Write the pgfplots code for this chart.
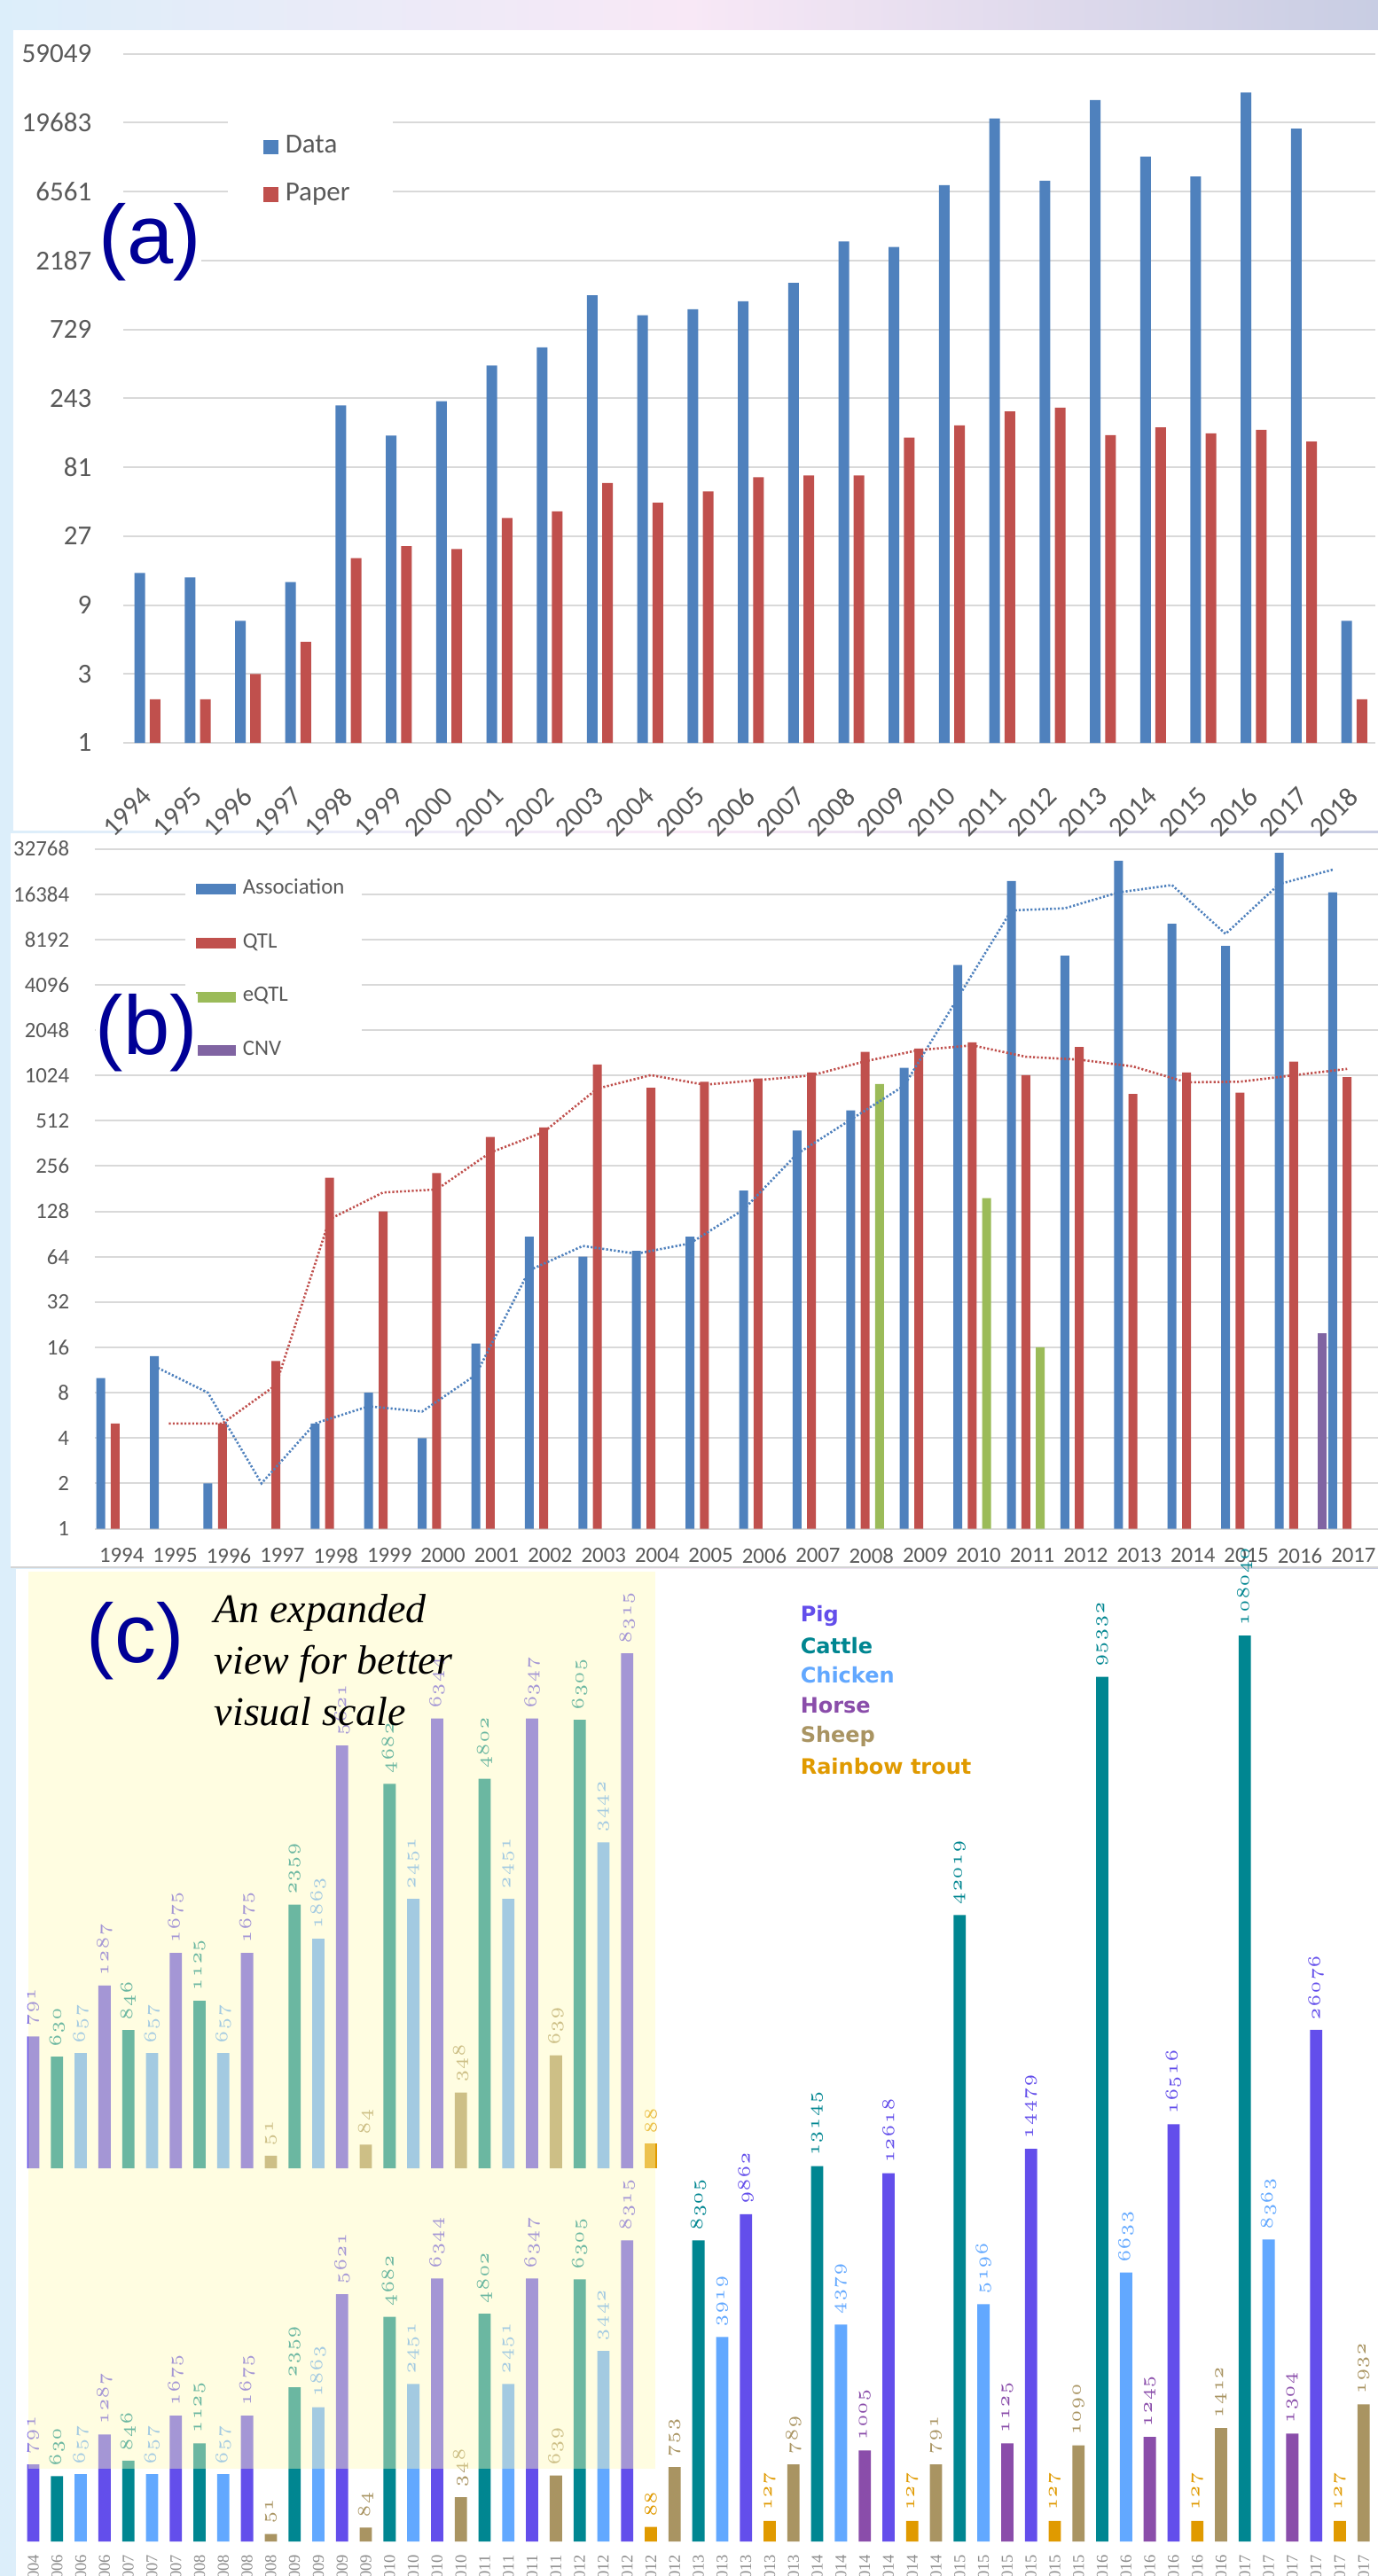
\documentclass[border=0pt]{standalone}
\usepackage{fontspec}
\usepackage{pgfplots}
\pgfplotsset{compat=1.18}
\newfontfamily\carlito{Carlito}
\newfontfamily\arialf{Liberation Sans}
\newfontfamily\timesf{Liberation Serif}
\newfontfamily\dejavu{DejaVu Sans}
\definecolor{dataC}{HTML}{4F81BD}
\definecolor{paperC}{HTML}{C0504D}
\definecolor{eqtlC}{HTML}{9BBB59}
\definecolor{cnvC}{HTML}{8064A2}
\definecolor{gridC}{HTML}{D9D9D9}
\definecolor{tickC}{HTML}{595959}
\definecolor{navyC}{RGB}{0,0,150}
\definecolor{pigC}{RGB}{99,78,235}
\definecolor{cattleC}{RGB}{0,134,145}
\definecolor{chickC}{RGB}{98,168,255}
\definecolor{horseC}{RGB}{138,77,170}
\definecolor{sheepC}{RGB}{169,148,98}
\definecolor{troutC}{RGB}{224,154,0}
\definecolor{ovC}{RGB}{255,251,184}
\definecolor{yearC}{HTML}{8C8C8C}
\definecolor{bgL}{HTML}{DCEEFA}
\definecolor{bgM}{HTML}{F8E8F6}
\definecolor{bgR}{HTML}{C8CDE3}
\definecolor{sepC}{HTML}{D4D4D4}
\begin{document}
\begin{tikzpicture}
\path[use as bounding box] (0pt,0pt) rectangle (388.5pt,-726.5pt);
\shade[left color=bgL, right color=bgR, middle color=bgM] (0pt,0pt) rectangle (388.5pt,-726.5pt);
\fill[white] (3.75pt,-8.5pt) rectangle (388.5pt,-234.25pt);
\fill[white] (3pt,-234.9pt) rectangle (388.5pt,-441.9pt);
\fill[white] (4.5pt,-442.4pt) rectangle (388.5pt,-726.5pt);
\draw[sepC, line width=0.5pt] (3pt,-442.1pt) -- (388.5pt,-442.1pt);

% ---------------- (a) ----------------
\begin{axis}[
 at={(34.75pt,-209.5pt)}, anchor=south west, scale only axis,
 width=353pt, height=194.35pt,
 ymode=log, log basis y=3, ymin=1, ymax=59049,
 xmin=-0.48, xmax=24.42,
 ybar, bar width=3pt,
 ytick={1,3,9,27,81,243,729,2187,6561,19683,59049},
 yticklabels={1,3,9,27,81,243,729,2187,6561,19683,59049},
 xtick={0,...,24},
 xticklabels={1994,1995,1996,1997,1998,1999,2000,2001,2002,2003,2004,2005,2006,2007,2008,2009,2010,2011,2012,2013,2014,2015,2016,2017,2018},
 ymajorgrids, major grid style={draw=gridC, line width=0.5pt},
 axis line style={draw=none}, tick style={draw=none},
 tick label style={font=\carlito\fontsize{7.75}{9}\selectfont, text=tickC},
 yticklabel style={xshift=-5.4pt},
 xticklabel style={yshift=-9.5pt, rotate=45, anchor=east, inner sep=0pt},
 clip=false,
 legend style={at={(axis description cs:0.0829,0.913)}, anchor=north west, fill=white, draw=none,
   inner xsep=10pt, inner ysep=4pt, row sep=3pt,
   font=\carlito\fontsize{7.75}{9}\selectfont\color{tickC}},
 legend cell align=left,
 legend image code/.code={\draw[#1,draw=none] (0pt,-2.1pt) rectangle (4.25pt,2.1pt);},
]
\addplot[fill=dataC, draw=none, bar shift=-2.15pt] coordinates {
(0,15) (1,14) (2,7) (3,13) (4,217) (5,134) (6,232) (7,409) (8,547) (9,1256) (10,915) (11,1005) (12,1142)
(13,1530) (14,2960) (15,2714) (16,7277) (17,21070) (18,7800) (19,28210) (20,11470) (21,8340) (22,31790) (23,17920) (24,7)};
\addplot[fill=paperC, draw=none, bar shift=2.15pt] coordinates {
(0,2) (1,2) (2,3) (3,5) (4,19) (5,23) (6,22) (7,36) (8,40) (9,63) (10,46) (11,55) (12,69)
(13,71) (14,71) (15,130) (16,158) (17,197) (18,209) (19,135) (20,153) (21,139) (22,147) (23,122) (24,2)};
\legend{Data,Paper}
\end{axis}
\node[anchor=west, inner sep=0pt, fill=white, font=\arialf\fontsize{23.5}{24}\selectfont, text=navyC] at (27.75pt,-68.25pt) {(a)};

% ---------------- (b) ----------------
\begin{axis}[
 at={(26.75pt,-431.125pt)}, anchor=south west, scale only axis,
 width=362.4pt, height=191.75pt,
 ymode=log, log basis y=2, ymin=1, ymax=32768,
 xmin=-0.5, xmax=23.5,
 ybar, bar width=2.5pt,
 ytick={1,2,4,8,16,32,64,128,256,512,1024,2048,4096,8192,16384,32768},
 yticklabels={1,2,4,8,16,32,64,128,256,512,1024,2048,4096,8192,16384,32768},
 xtick={0,...,23},
 xticklabels={1994,1995,1996,1997,1998,1999,2000,2001,2002,2003,2004,2005,2006,2007,2008,2009,2010,2011,2012,2013,2014,2015,2016,2017},
 ymajorgrids, major grid style={draw=gridC, line width=0.5pt},
 axis line style={draw=none}, tick style={draw=none},
 tick label style={font=\carlito\fontsize{6.2}{7.5}\selectfont, text=tickC},
 yticklabel style={xshift=-3.7pt},
 xticklabel style={yshift=2.3pt},
 clip=false,
 legend style={at={(axis description cs:0.0697,0.9775)}, anchor=north west, fill=white, draw=none,
   inner xsep=3pt, inner ysep=2pt, row sep=5.6pt,
   font=\carlito\fontsize{6.2}{7.5}\selectfont\color{tickC}},
 legend cell align=left,
 legend image code/.code={\draw[#1,draw=none] (0pt,-1.5pt) rectangle (11.25pt,1.5pt);},
]
\addplot[fill=dataC, draw=none, bar shift=-5.875pt] coordinates {
(0,10) (1,14) (2,2) (4,5) (5,8) (6,4) (7,17) (8,87) (9,64) (10,70) (11,87) (12,176) (13,441) (14,600)
(15,1152) (16,5545) (17,19990) (18,6393) (19,27230) (20,10410) (21,7430) (22,30770) (23,16840)};
\addplot[fill=paperC, draw=none, bar shift=-1.8pt] coordinates {
(0,5) (2,5) (3,13) (4,214) (5,128) (6,230) (7,399) (8,463) (9,1211) (10,847) (11,929) (12,977) (13,1072)
(14,1470) (15,1546) (16,1698) (17,1027) (18,1580) (19,771) (20,1072) (21,788) (22,1265) (23,998)};
\addplot[fill=eqtlC, draw=none, bar shift=2.275pt] coordinates {(14,897) (16,157) (17,16)};
\addplot[fill=cnvC, draw=none, bar shift=6.35pt] coordinates {(22,20)};
\addplot[sharp plot, no marks, draw=dataC, line width=0.65pt, dash pattern=on 0.55pt off 0.55pt, xshift=-5.875pt] coordinates {
(1,12) (2,8) (3,2) (4,5) (5,6.5) (6,6) (7,10.5) (8,52) (9,75.5) (10,67) (11,78.5) (12,131.5) (13,308.5)
(14,520.5) (15,876) (16,3348.5) (17,12767.5) (18,13191.5) (19,16811.5) (20,18820) (21,8920) (22,19100) (23,23805)};
\addplot[sharp plot, no marks, draw=paperC, line width=0.65pt, dash pattern=on 0.55pt off 0.55pt, xshift=-1.8pt] coordinates {
(1,5) (2,5) (3,9) (4,113.5) (5,171) (6,179) (7,314.5) (8,431) (9,837) (10,1029) (11,888) (12,953) (13,1024.5)
(14,1271) (15,1508) (16,1622) (17,1362.5) (18,1303.5) (19,1175.5) (20,921.5) (21,930) (22,1026.5) (23,1131.5)};
\legend{Association,QTL,eQTL,CNV}
\end{axis}
\node[anchor=west, inner sep=0pt, fill=white, font=\arialf\fontsize{23.5}{24}\selectfont, text=navyC] at (26.75pt,-291.25pt) {(b)};

% ---------------- (c) lower ----------------
\begin{axis}[
 at={(9.375pt,-716.75pt)}, anchor=origin,
 x=6.6975pt, y=0.25pt,
 xmin=-0.6, xmax=56.6, ymin=0, ymax=1100,
 ybar, bar width=3.45pt,
 axis x line=bottom, axis y line=none,
 x axis line style={draw=none}, xtick style={draw=none},
 xtick={0,...,56},
 xticklabels={2004,2006,2006,2006,2007,2007,2007,2008,2008,2008,2008,2009,2009,2009,2009,2010,2010,2010,2010,2011,2011,2011,2011,2012,2012,2012,2012,2012,2013,2013,2013,2013,2013,2014,2014,2014,2014,2014,2014,2015,2015,2015,2015,2015,2015,2016,2016,2016,2016,2016,2016,2017,2017,2017,2017,2017,2017},
 xticklabel style={yshift=-1.5pt, rotate=90, anchor=east, inner sep=0pt, font=\timesf\fontsize{4.6}{5}\selectfont, text=yearC},
 y filter/.expression={y<576 ? 3.62*sqrt(y)-17.55 : 1437.6*ln(1+sqrt(y)/300)-41.8},
 point meta=rawy,
 nodes near coords={$\mathnormal{\pgfmathprintnumber[fixed,precision=0,1000 sep={}]{\pgfplotspointmeta}}$},
 every node near coord/.append style={rotate=90, anchor=west, inner xsep=2.5pt, inner ysep=0pt, font=\fontsize{4.7}{5}\selectfont},
 clip=false,
]
\addplot[fill=pigC, draw=none, bar shift=0pt, every node near coord/.append style={text=pigC}] coordinates {
(0,791) (3,1287) (6,1675) (9,1675) (13,5621) (17,6344) (21,6347) (25,8315) (30,9862) (36,12618) (42,14479) (48,16516) (54,26076)};
\addplot[fill=cattleC, draw=none, bar shift=0pt, every node near coord/.append style={text=cattleC}] coordinates {
(1,630) (4,846) (7,1125) (11,2359) (15,4682) (19,4802) (23,6305) (28,8305) (33,13145) (39,42019) (45,95332) (51,108040)};
\addplot[fill=chickC, draw=none, bar shift=0pt, every node near coord/.append style={text=chickC}] coordinates {
(2,657) (5,657) (8,657) (12,1863) (16,2451) (20,2451) (24,3442) (29,3919) (34,4379) (40,5196) (46,6633) (52,8363)};
\addplot[fill=horseC, draw=none, bar shift=0pt, every node near coord/.append style={text=horseC}] coordinates {
(35,1005) (41,1125) (47,1245) (53,1304)};
\addplot[fill=sheepC, draw=none, bar shift=0pt, every node near coord/.append style={text=sheepC}] coordinates {
(10,51) (14,84) (18,348) (22,639) (27,753) (32,789) (38,791) (44,1090) (50,1412) (56,1932)};
\addplot[fill=troutC, draw=none, bar shift=0pt, every node near coord/.append style={text=troutC}] coordinates {
(26,88) (31,127) (37,127) (43,127) (49,127) (55,127)};
\end{axis}

% ---------------- (c) expanded copy ----------------
\begin{axis}[
 at={(9.375pt,-611.5pt)}, anchor=origin,
 x=6.6975pt, y=0.4275pt,
 xmin=-0.6, xmax=26.6, ymin=0, ymax=600,
 ybar, bar width=3.45pt,
 hide axis,
 y filter/.expression={y<576 ? 3.62*sqrt(y)-17.55 : 1437.6*ln(1+sqrt(y)/300)-41.8},
 point meta=rawy,
 nodes near coords={$\mathnormal{\pgfmathprintnumber[fixed,precision=0,1000 sep={}]{\pgfplotspointmeta}}$},
 every node near coord/.append style={rotate=90, anchor=west, inner xsep=2.5pt, inner ysep=0pt, font=\fontsize{4.7}{5}\selectfont},
 clip=false,
]
\addplot[fill=pigC, draw=none, bar shift=0pt, every node near coord/.append style={text=pigC}] coordinates {
(0,791) (3,1287) (6,1675) (9,1675) (13,5621) (17,6344) (21,6347) (25,8315)};
\addplot[fill=cattleC, draw=none, bar shift=0pt, every node near coord/.append style={text=cattleC}] coordinates {
(1,630) (4,846) (7,1125) (11,2359) (15,4682) (19,4802) (23,6305)};
\addplot[fill=chickC, draw=none, bar shift=0pt, every node near coord/.append style={text=chickC}] coordinates {
(2,657) (5,657) (8,657) (12,1863) (16,2451) (20,2451) (24,3442)};
\addplot[fill=sheepC, draw=none, bar shift=0pt, every node near coord/.append style={text=sheepC}] coordinates {
(10,51) (14,84) (18,348) (22,639)};
\addplot[fill=troutC, draw=none, bar shift=0pt, every node near coord/.append style={text=troutC}] coordinates {
(26,88)};
\end{axis}

% translucent highlight over the expanded region
\fill[ovC, fill opacity=0.42] (7.925pt,-443.25pt) rectangle (184.75pt,-696.25pt);

\node[anchor=west, inner sep=0pt, font=\arialf\fontsize{23.5}{24}\selectfont, text=navyC] at (24.25pt,-462.75pt) {(c)};
\begin{scope}[every node/.style={anchor=base west, inner sep=0pt, font=\timesf\itshape\fontsize{11.5}{14.5}\selectfont}]
\node at (60.25pt,-457.5pt) {An expanded};
\node at (60.25pt,-472pt) {view for better};
\node at (60.25pt,-486.5pt) {visual scale};
\end{scope}

\begin{scope}[every node/.style={anchor=west, inner sep=0pt, font=\dejavu\bfseries\fontsize{6}{7}\selectfont}]
\node[text=pigC] at (225.5pt,-455.75pt) {Pig};
\node[text=cattleC] at (225.5pt,-464.25pt) {Cattle};
\node[text=chickC] at (225.5pt,-472.5pt) {Chicken};
\node[text=horseC] at (225.5pt,-481pt) {Horse};
\node[text=sheepC] at (225.5pt,-489.75pt) {Sheep};
\node[text=troutC] at (225.5pt,-498.25pt) {Rainbow trout};
\end{scope}
\end{tikzpicture}
\end{document}
